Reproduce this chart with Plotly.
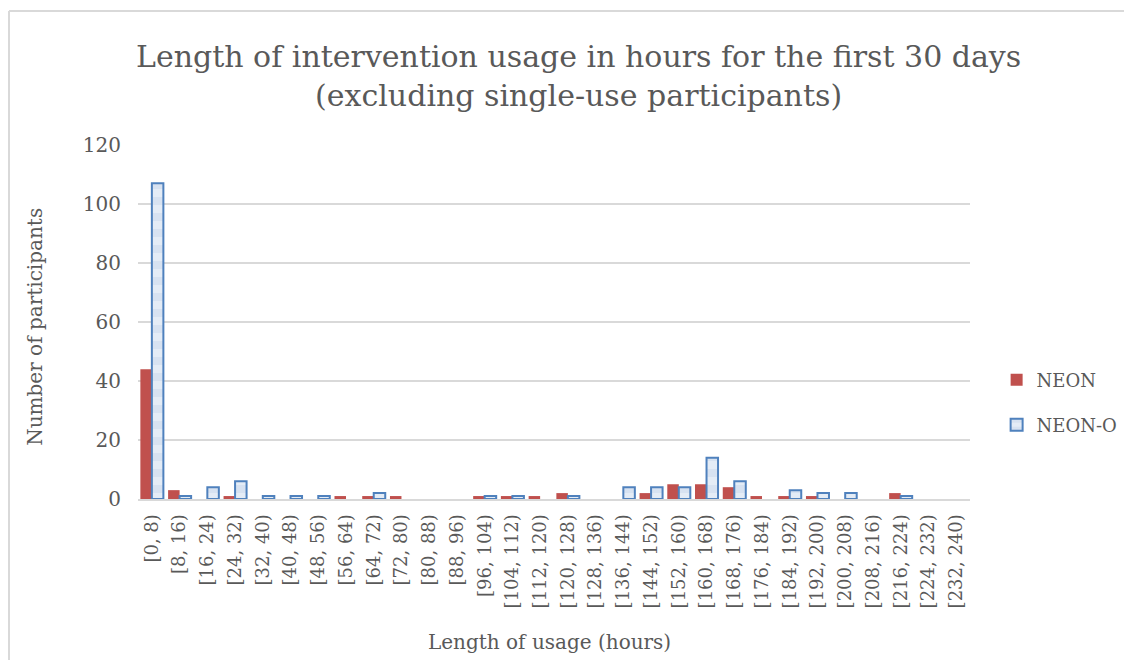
import plotly.graph_objects as go

categories = ["[0, 8)", "[8, 16)", "[16, 24)", "[24, 32)", "[32, 40)", "[40, 48)", "[48, 56)",
              "[56, 64)", "[64, 72)", "[72, 80)", "[80, 88)", "[88, 96)", "[96, 104)", "[104, 112)",
              "[112, 120)", "[120, 128)", "[128, 136)", "[136, 144)", "[144, 152)", "[152, 160)",
              "[160, 168)", "[168, 176)", "[176, 184)", "[184, 192)", "[192, 200)", "[200, 208)",
              "[208, 216)", "[216, 224)", "[224, 232)", "[232, 240)"]

neon = [44, 3, 0, 1, 0, 0, 0, 1, 1, 1, 0, 0, 1, 1, 1, 2, 0, 0, 2, 5,
        5, 4, 1, 1, 1, 0, 0, 2, 0, 0]
neon_o = [107, 1, 4, 6, 1, 1, 1, 0, 2, 0, 0, 0, 1, 1, 0, 1, 0, 4, 4, 4,
          14, 6, 0, 3, 2, 2, 0, 1, 0, 0]
y_ticks = [0, 20, 40, 60, 80, 100, 120]

FONT = "DejaVu Serif"
TXT = "#595959"
GRID = "#D9D9D9"


def hide_zero(vals):
    # zero-count bins draw no visible bar in the reference
    return [v if v != 0 else None for v in vals]


fig = go.Figure()
fig.add_trace(go.Bar(
    x=categories, y=hide_zero(neon), name="NEON",
    marker=dict(color="#C0504D", line=dict(width=0)),
    legend="legend",
))
fig.add_trace(go.Bar(
    x=categories, y=hide_zero(neon_o), name="NEON-O",
    marker=dict(color="#DCE6F2", line=dict(color="#4F81BD", width=2),
                pattern=dict(shape="-", bgcolor="#E4ECF6", fgcolor="#C9D8EB",
                             size=16, solidity=0.5, fillmode="overlay")),
    legend="legend2",
))

# page body has an 8px margin, so the figure sits at (8, 8) in the window
fig.update_layout(
    width=1124, height=652,
    paper_bgcolor="white", plot_bgcolor="white",
    margin=dict(l=130, r=162, t=137, b=161, autoexpand=False),
    barmode="group", bargap=0.17, bargroupgap=0.0,
    font=dict(family=FONT, color=TXT, size=16),
    xaxis=dict(tickangle=-90, tickfont=dict(size=18, family=FONT, color=TXT),
               showgrid=False, showline=True, linecolor=GRID, linewidth=2,
               ticks="", automargin=False, ticklabelstandoff=6),
    yaxis=dict(range=[0, 120], tickvals=y_ticks, tickfont=dict(size=20, family=FONT, color=TXT),
               showgrid=True, gridcolor=GRID, gridwidth=2, zeroline=False,
               showline=False, ticks="", automargin=False, ticklabelstandoff=16),
    legend=dict(x=1.032, y=0.336, xanchor="left", yanchor="middle", bgcolor="rgba(0,0,0,0)",
                font=dict(size=18, family=FONT, color=TXT)),
    legend2=dict(x=1.032, y=0.209, xanchor="left", yanchor="middle", bgcolor="rgba(0,0,0,0)",
                 font=dict(size=18, family=FONT, color=TXT)),
    showlegend=True,
)

# title
fig.add_annotation(text="Length of intervention usage in hours for the first 30 days<br>(excluding single-use participants)",
                   xref="paper", yref="paper", x=0.530, y=1.195, xanchor="center", yanchor="middle",
                   showarrow=False, font=dict(family=FONT, size=30, color=TXT))
# axis titles
fig.add_annotation(text="Length of usage (hours)", xref="paper", yref="paper", x=0.495, y=-0.405,
                   xanchor="center", yanchor="middle", showarrow=False,
                   font=dict(family=FONT, size=20, color=TXT))
fig.add_annotation(text="Number of participants", xref="paper", yref="paper", x=-0.124, y=0.486,
                   xanchor="center", yanchor="middle", textangle=-90, showarrow=False,
                   font=dict(family=FONT, size=20, color=TXT))

# chart frame (only left and top edges visible in the reference)
fx0 = -129 / 832
fy1 = (354 + 134) / 354
fig.add_shape(type="line", xref="paper", yref="paper", x0=fx0, x1=1.25, y0=fy1, y1=fy1,
              line=dict(color=GRID, width=2), layer="below")
fig.add_shape(type="line", xref="paper", yref="paper", x0=fx0, x1=fx0, y0=-0.6, y1=fy1,
              line=dict(color=GRID, width=2), layer="below")

fig.write_html("out.html")
